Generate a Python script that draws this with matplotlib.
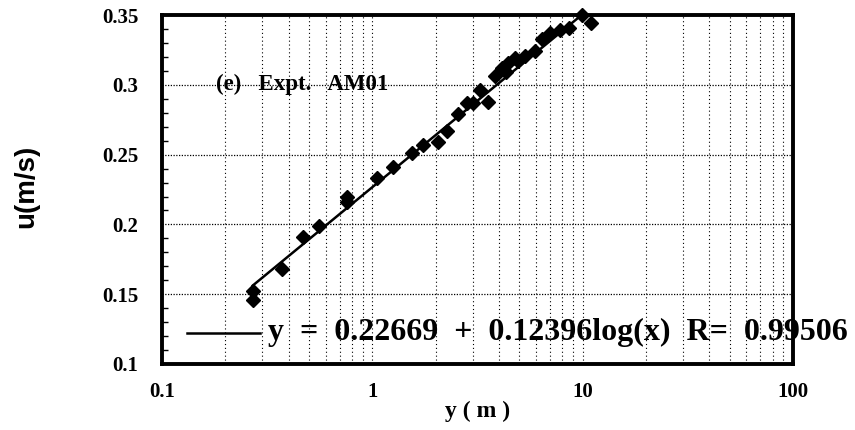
import numpy as np
import matplotlib.pyplot as plt
from matplotlib.ticker import FixedLocator, NullFormatter, MultipleLocator

y_m = [0.27, 0.27, 0.37, 0.47, 0.56, 0.76, 0.76, 1.05, 1.26, 1.54, 1.75,
       2.06, 2.26, 2.56, 2.81, 3.02, 3.25, 3.56, 3.83, 4.12, 4.30, 4.42,
       4.77, 4.90, 5.32, 5.94, 6.39, 7.00, 7.81, 8.60, 9.90, 11.0]
u_ms = [0.146, 0.152, 0.168, 0.191, 0.199, 0.216, 0.220, 0.233, 0.241, 0.251, 0.257,
        0.259, 0.267, 0.279, 0.287, 0.287, 0.296, 0.288, 0.306, 0.312, 0.309, 0.316,
        0.319, 0.317, 0.321, 0.324, 0.333, 0.337, 0.339, 0.341, 0.350, 0.344]

# Régression logarithmique
a, b, R = 0.22669, 0.12396, 0.99506

x_ticks = [0.1, 1, 10, 100]
x_ticklabels = ['0.1', '1', '10', '100']
u_ticks = [0.1, 0.15, 0.2, 0.25, 0.3, 0.35]
u_ticklabels = ['0.1', '0.15', '0.2', '0.25', '0.3', '0.35']

serif = 'Liberation Serif'

fig = plt.figure(figsize=(8.55, 4.30), dpi=100)
ax = fig.add_axes([0.1895, 0.1535, 0.738, 0.8115])

xf = np.logspace(np.log10(min(y_m)), np.log10(max(y_m)), 200)
ax.plot(xf, a + b * np.log10(xf), color='black', lw=1.8, zorder=3)
ax.plot(y_m, u_ms, 'D', color='black', ms=7.5, zorder=4, clip_on=False)

ax.set_xscale('log')
ax.set_xlim(0.1, 100)
ax.set_ylim(0.1, 0.35)

ax.xaxis.set_major_locator(FixedLocator(x_ticks))
ax.xaxis.set_minor_locator(FixedLocator(
    [m * 10.0 ** e for e in (-1, 0, 1) for m in range(2, 10)]))
ax.xaxis.set_minor_formatter(NullFormatter())
ax.set_xticklabels(x_ticklabels)
ax.set_yticks(u_ticks)
ax.set_yticklabels(u_ticklabels)
ax.yaxis.set_minor_locator(MultipleLocator(0.01))

ax.grid(True, which='both', axis='x', ls=(0, (1, 2.5)), color='black', lw=0.8)
ax.grid(True, which='major', axis='y', ls=(0, (1, 1.2)), color='black', lw=0.9)

ax.tick_params(which='both', direction='in', length=0, labelsize=15)
ax.tick_params(axis='x', pad=13)
ax.tick_params(axis='y', pad=17)
ax.tick_params(axis='y', which='minor', length=4, width=1, left=True)
for lab in ax.get_xticklabels() + ax.get_yticklabels():
    lab.set_fontfamily(serif)
    lab.set_fontweight('bold')

for s in ax.spines.values():
    s.set_linewidth(2.8)

ax.set_xlabel('y ( m )', fontfamily=serif, fontweight='bold', fontsize=17)
ax.xaxis.set_label_coords(0.5, -0.105)
ax.set_ylabel('u(m/s)', fontfamily='Liberation Sans', fontweight='bold', fontsize=20)
ax.yaxis.set_label_coords(-0.195, 0.51)

ax.text(0.085, 0.785, '(e)   Expt.   AM01', transform=ax.transAxes,
        fontfamily=serif, fontweight='bold', fontsize=16.5, va='baseline')

# Légende de la régression
ax.plot([0.04, 0.155], [0.09, 0.09], transform=ax.transAxes, color='black', lw=1.8)
ax.text(0.168, 0.09, 'y  =  0.22669  +  0.12396log(x)  R=  %.5f' % R,
        transform=ax.transAxes, fontfamily=serif, fontweight='bold',
        fontsize=23, va='center', clip_on=False)

fig.savefig('out.png', dpi=100)
